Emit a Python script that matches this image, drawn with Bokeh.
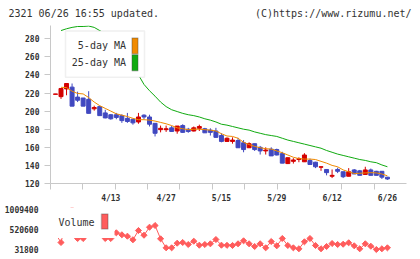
from bokeh.plotting import figure
from bokeh.models import (Range1d, FixedTicker, BoxAnnotation, Label, ColumnDataSource,
                          BasicTickFormatter)
from bokeh.core.properties import value
from bokeh.layouts import column
from bokeh.embed import file_html
from bokeh.resources import INLINE
import numpy as np

# ---- daily prices, stock 2321 ----
dates = ["3/30", "3/31", "4/1", "4/2", "4/3", "4/6", "4/7", "4/8", "4/9", "4/10",
         "4/13", "4/14", "4/15", "4/16", "4/17", "4/20", "4/21", "4/22", "4/23", "4/24",
         "4/27", "4/28", "4/30", "5/1", "5/7", "5/8", "5/11", "5/12", "5/13", "5/14",
         "5/15", "5/18", "5/19", "5/20", "5/21", "5/22", "5/25", "5/26", "5/27", "5/28",
         "5/29", "6/1", "6/2", "6/3", "6/4", "6/5", "6/8", "6/9", "6/10", "6/11",
         "6/12", "6/15", "6/16", "6/17", "6/18", "6/19", "6/22", "6/23", "6/24", "6/25",
         "6/26"]

opens = [218.5, 216, 224.5, 226.5, 215.5, 214.5, 213, 202.5, 205, 198,
         196, 196, 195, 192, 191, 188, 195.5, 193.5, 186.5, 179.5,
         179.5, 181.5, 178, 184, 180, 178, 181, 180.5, 179, 178,
         173, 166.5, 166.5, 167.5, 165, 159.5, 164, 160, 156, 158,
         157.5, 153, 142, 144.5, 146.5, 144, 145.5, 143.5, 138, 135.5,
         128, 135.5, 133, 128, 135, 134, 130, 135, 133.5, 133.5,
         127]
closes = [219, 225, 230.5, 205.5, 212, 205.5, 197.5, 204, 195, 192.5,
          191.5, 193, 189.5, 188.5, 187, 193.5, 193.5, 185.5, 175.5, 181,
          180.5, 177.5, 183.5, 176.5, 177.5, 181.5, 183, 176, 176.5, 171,
          166.5, 170, 168, 159.5, 157.5, 164, 157.5, 156, 157, 150.5,
          151.5, 142.5, 148.5, 146, 147.5, 151.5, 141, 138.5, 138.5, 132,
          129, 133.5, 127.5, 133, 130.5, 129, 135, 129, 129, 127,
          125]
highs = [219, 225.5, 230.5, 230.5, 221.5, 214.5, 222, 206, 205.5, 201.5,
         196.5, 198, 196.5, 198, 191, 198, 196.5, 196, 186.5, 184,
         184, 183.5, 183.5, 185.5, 181.5, 183, 185, 181.5, 181, 181.5,
         175.5, 171, 171, 170.5, 168, 165.5, 164, 161.5, 160, 160,
         158.5, 155, 148.5, 148, 149, 153.5, 147.5, 144, 139, 135.5,
         135.5, 137.5, 133, 137, 136, 135, 138.5, 136.5, 134, 133.5,
         127]
lows = [218.5, 213.5, 217.5, 205.5, 210, 205.5, 197.5, 200.5, 195, 192,
        190.5, 191, 187, 187, 185, 186, 191, 183, 172, 176.5,
        177, 177, 175, 176, 176, 177.5, 178, 176, 173, 170.5,
        165.5, 166, 164, 159.5, 154.5, 159.5, 156, 152, 152, 150.5,
        151, 142.5, 141.5, 142, 143.5, 144, 141, 137, 134, 129,
        126, 131.5, 126, 128, 130.5, 129, 130, 129, 129, 125,
        124]

nan = float("nan")
ma5 = [nan, 226.3, 226, 222, 219.5, 219, 215, 210, 206, 203,
       200, 197, 195.5, 194, 192, 190.5, 190.5, 190, 189, 187.5,
       186, 184, 181.5, 180.5, 179.5, 180, 180, 179.5, 179, 178,
       175, 172.5, 172, 170, 165.5, 163, 161, 159.5, 158.5, 158,
       156, 154, 151.5, 149, 147.5, 147, 147, 146.5, 144.5, 142.5,
       140, 138.5, 135, 133, 131, 131.3, 131.7, 132, 131.7, 130.5,
       128.5]
ma25 = [nan, 289, 291, 292.5, 293.5, 293.5, 294, 292.5, 289, 285,
        280, 274, 267, 259, 250, 240, 229.5, 222.5, 216.5, 210,
        205, 201.5, 199.5, 197.5, 196, 195, 193.5, 191.5, 190, 188,
        185.5, 184.5, 183, 181.5, 180, 179, 177, 175.5, 174, 173,
        172, 170, 168, 166.5, 165, 163.5, 162, 160.5, 159, 156.5,
        154.5, 152.5, 151, 149.5, 148, 146.5, 145.5, 144, 143, 140.5,
        138.5]

volumes = [420000, 203000, 760000, 1009400, 300640, 300640, 820000, 540000, 620000, 300640,
           300640, 440000, 391000, 357000, 269000, 496000, 381000, 577000, 618000, 293000,
           73000, 73000, 186000, 203000, 154000, 235000, 137000, 154000, 171000, 276000,
           137000, 134000, 130000, 171000, 244000, 171000, 105000, 171000, 73000, 227000,
           122000, 301000, 130000, 73000, 49000, 220000, 301000, 130000, 49000, 105000,
           178000, 154000, 161000, 196000, 122000, 49000, 171000, 112000, 31800, 49000,
           73000]

price_ticks = [120, 140, 160, 180, 200, 220, 240, 260, 280]
volume_ticks = [31800, 520600, 1009400]
label_every = 10

# ---- styling ----
FONT = "DejaVu Sans Mono"
AXIS_GRAY = "#c8c8c8"
TEXT = "#333333"
UP = "#d40000"
DOWN = "#4048c0"
ORANGE = "#f08a00"
GREEN = "#10aa10"
VOL = "#ff5c5c"

W = 420
HEAD_H, MAIN_H, VOL_H = 25, 180, 54
L, R = 50, 14
X0, X1 = -0.9, 63.45
fw = W - L - R

xs = list(range(len(dates)))
colors = [UP if c >= o else DOWN for o, c in zip(opens, closes)]
src = ColumnDataSource(dict(
    x=xs, top=[max(o, c) for o, c in zip(opens, closes)],
    bottom=[min(o, c) for o, c in zip(opens, closes)],
    high=highs, low=lows, color=colors))


def fx(px):
    return X0 + (px - L) * (X1 - X0) / fw


# ---- header strip (no axes, frame fills the strip) ----
h = figure(width=W, height=HEAD_H, x_range=Range1d(0, W), y_range=Range1d(HEAD_H, 0),
           output_backend="svg", toolbar_location=None,
           x_axis_location=None, y_axis_location=None,
           min_border_left=0, min_border_right=0, min_border_top=0, min_border_bottom=0)
h.frame_align = False
h.grid.visible = False
h.outline_line_color = None
h.text(x=[8], y=[12.5], text=["2321 06/26 16:55 updated."], text_font=value(FONT),
       text_font_size="10px", text_color=TEXT, text_baseline="middle", text_align="left")
h.text(x=[411], y=[12.5], text=["(C)https://www.rizumu.net/"], text_font=value(FONT),
       text_font_size="10px", text_color=TEXT, text_baseline="middle", text_align="right")

# ---- price panel ----
MT, MB = 0, 21
Y0, Y1 = 120, 294.6
p = figure(width=W, height=MAIN_H, x_range=Range1d(X0, X1), y_range=Range1d(Y0, Y1),
           output_backend="svg", toolbar_location=None,
           min_border_left=L, min_border_right=R, min_border_top=MT, min_border_bottom=MB)
p.outline_line_color = None
p.grid.visible = False

fh = MAIN_H - MT - MB


def fy(py):
    # py measured from the top of the price panel's frame
    return Y1 - py * (Y1 - Y0) / fh


p.segment(x0="x", y0="low", x1="x", y1="high", color="color", line_width=1, source=src)
p.vbar(x="x", top="top", bottom="bottom", width=0.72, fill_color="color",
       line_color="color", line_width=1, source=src)
p.line(xs, ma5, color=ORANGE, line_width=1)
p.line(xs, ma25, color=GREEN, line_width=1)

yax = p.yaxis[0]
yax.ticker = FixedTicker(ticks=price_ticks)
yax.axis_line_color = AXIS_GRAY
yax.major_tick_line_color = AXIS_GRAY
yax.major_tick_out = 6
yax.major_tick_in = 0
yax.minor_tick_line_color = None
yax.major_label_standoff = 5
yax.major_label_text_font = FONT
yax.major_label_text_font_size = "8px"
yax.major_label_text_font_style = "bold"
yax.major_label_text_color = TEXT

label_idx = xs[label_every::label_every]
grid_ticks = [X0 + k * (X1 - X0) / 11 for k in range(12)]
xax = p.xaxis[0]
xax.ticker = FixedTicker(ticks=label_idx, minor_ticks=grid_ticks)
xax.major_label_overrides = {i: dates[i] for i in label_idx}
xax.axis_line_color = AXIS_GRAY
xax.major_tick_out = 0
xax.major_tick_in = 0
xax.minor_tick_line_color = AXIS_GRAY
xax.minor_tick_out = 6
xax.minor_tick_in = 0
xax.major_label_standoff = 4
xax.major_label_text_font = FONT
xax.major_label_text_font_size = "8px"
xax.major_label_text_font_style = "bold"
xax.major_label_text_color = TEXT

# moving-average legend (pixel offsets inside the frame)
p.add_layout(BoxAnnotation(left=fx(65), right=fx(144), top=fy(5.5), bottom=fy(52),
                           fill_color="white", fill_alpha=1.0,
                           line_color="#cccccc", line_width=1.5))
for name, col, ty in [("5-day MA", ORANGE, 20.5), ("25-day MA", GREEN, 37.5)]:
    p.add_layout(Label(x=fx(125.5), y=fy(ty), text=name, text_font=FONT,
                       text_font_size="10px", text_color=TEXT,
                       text_baseline="middle", text_align="right"))
    p.add_layout(BoxAnnotation(left=fx(131.5), right=fx(137.5), top=fy(ty - 8), bottom=fy(ty + 8),
                               fill_color=col, fill_alpha=1.0,
                               line_color="#444444", line_width=1.5))

# ---- volume panel ----
VT, VB = 2, 4
vfh = VOL_H - VT - VB
# 31800 sits 6 px above the frame bottom, 1009400 sits 2 px below its top
vpp = (volume_ticks[-1] - volume_ticks[0]) / (vfh - 8)
V0 = volume_ticks[0] - 6 * vpp
V1 = volume_ticks[-1] + 2 * vpp
q = figure(width=W, height=VOL_H, x_range=p.x_range, y_range=Range1d(V0, V1),
           output_backend="svg", toolbar_location=None,
           min_border_left=L, min_border_right=R, min_border_top=VT, min_border_bottom=VB)
q.outline_line_color = None
q.grid.visible = False
q.xaxis.visible = False


def vy(py):
    return V1 - (py - VT) * (V1 - V0) / vfh


q.line(xs, volumes, color=VOL, line_width=1)
q.scatter(xs, volumes, marker="square", angle=np.pi / 4, size=4.3,
          fill_color=VOL, line_color=VOL)

vax = q.yaxis[0]
vax.ticker = FixedTicker(ticks=volume_ticks)
vax.formatter = BasicTickFormatter(use_scientific=False)
vax.axis_line_color = None
vax.major_tick_line_color = None
vax.minor_tick_line_color = None
vax.major_label_standoff = 6
vax.major_label_text_font = FONT
vax.major_label_text_font_size = "8px"
vax.major_label_text_font_style = "bold"
vax.major_label_text_color = TEXT

q.add_layout(BoxAnnotation(left=fx(50), right=fx(114), top=vy(0), bottom=vy(32.5),
                           fill_color="white", fill_alpha=1.0, line_color=None))
q.add_layout(Label(x=fx(58), y=vy(17), text="Volume", text_font=FONT,
                   text_font_size="10px", text_color=TEXT,
                   text_baseline="middle", text_align="left"))
q.add_layout(BoxAnnotation(left=fx(101), right=fx(107.5), top=vy(8.5), bottom=vy(23.5),
                           fill_color=VOL, fill_alpha=1.0,
                           line_color="#444444", line_width=1.5))

layout = column(h, p, q, spacing=0)
open("out.html", "w").write(file_html(layout, INLINE))
